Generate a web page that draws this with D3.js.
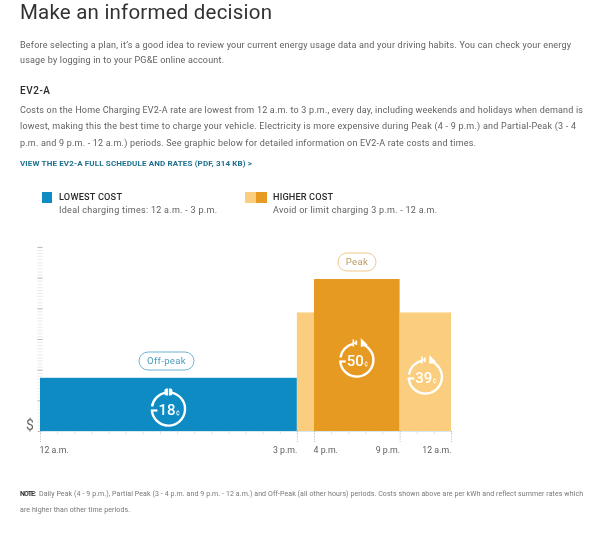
<!DOCTYPE html>
<html><head><meta charset="utf-8">
<script src="https://cdn.jsdelivr.net/npm/d3@7"></script>
<style>html,body{margin:0;padding:0;background:#fff}svg{display:block}text{font-family:Roboto,sans-serif}</style>
</head><body><div id="c"></div>
<script>
// Data
const periodStarts = [0, 15, 16, 21];
const periodEnds = [15, 16, 21, 24];
const periodNames = ["Off-peak", "Partial-peak", "Peak", "Partial-peak"];
const barCents = [17.5, 39, 50, 39];
const centLabels = ["18", null, "50", "39"];
const tickHours = [0, 15, 16, 21, 24];
const tickLabels = ["12 a.m.", "3 p.m.", "4 p.m.", "9 p.m.", "12 a.m."];
const titleText = "Make an informed decision";
const introLines = ["Before selecting a plan, it\u2019s a good idea to review your current energy usage data and your driving habits. You can check your energy","usage by logging in to your PG&E online account."];
const rateHeading = "EV2-A";
const rateLines = ["Costs on the Home Charging EV2-A rate are lowest from 12 a.m. to 3 p.m., every day, including weekends and holidays when demand is","lowest, making this the best time to charge your vehicle. Electricity is more expensive during Peak (4 - 9 p.m.) and Partial-Peak (3 - 4","p.m. and 9 p.m. - 12 a.m.) periods. See graphic below for detailed information on EV2-A rate costs and times."];
const linkText = "VIEW THE EV2-A FULL SCHEDULE AND RATES (PDF, 314 KB) >";
const legendTitles = ["LOWEST COST", "HIGHER COST"];
const legendNotes = ["Ideal charging times: 12 a.m. - 3 p.m.", "Avoid or limit charging 3 p.m. - 12 a.m."];
const noteBold = "NOTE:";
const noteLines = ["Daily Peak (4 - 9 p.m.), Partial Peak (3 - 4 p.m. and 9 p.m. - 12 a.m.) and Off-Peak (all other hours) periods. Costs shown above are per kWh and reflect summer rates which","are higher than other time periods."];

const W = 602, H = 533;
const BLUE = "#0a8bc2", DARK = "#e69a20", LIGHT = "#fbcd7e";
const colors = [BLUE, LIGHT, DARK, LIGHT];

const svg = d3.select("#c").append("svg").attr("width", W).attr("height", H).attr("viewBox", [0,0,W,H]);
const defs = svg.append("defs");
defs.append("filter").attr("id","soft").attr("x","-5%").attr("y","-5%").attr("width","110%").attr("height","110%")
  .append("feGaussianBlur").attr("stdDeviation",0.4);
const root = svg.append("g").attr("filter","url(#soft)");

function txt(t, x, y, size, color, width, weight){
  const el = root.append("text").attr("x",x).attr("y",y).attr("font-size",size).attr("fill",color)
    .attr("font-weight",weight||400).text(t);
  if(width) el.attr("textLength",width).attr("lengthAdjust","spacing");
  return el;
}

// Page text
txt(titleText,20,18.5,20.5,"#333",252,400);
txt(introLines[0],20,47.5,9,"#5f5f5f",551);
txt(introLines[1],20,63,9,"#5f5f5f",204);
txt(rateHeading,20,94,10,"#2b2b2b",30,500);
txt(rateLines[0],20,113,9,"#5f5f5f",563);
txt(rateLines[1],20,129,9,"#5f5f5f",556);
txt(rateLines[2],20,146,9,"#5f5f5f",456);
txt(linkText,20,166,8,"#1d6f8f",232,700);

// Legend
root.append("rect").attr("x",42).attr("y",192).attr("width",10).attr("height",11).attr("fill",BLUE);
root.append("rect").attr("x",245).attr("y",192).attr("width",11).attr("height",11).attr("fill",LIGHT);
root.append("rect").attr("x",256).attr("y",192).attr("width",11).attr("height",11).attr("fill",DARK);
txt(legendTitles[0],59,200,9.2,"#2b2b2b",63,500);
txt(legendTitles[1],273,200,9.2,"#2b2b2b",60,500);
txt(legendNotes[0],59,213,9,"#5f5f5f",158);
txt(legendNotes[1],273,213,9,"#5f5f5f",164);

// Scales
const x = d3.scaleLinear().domain([0,24]).range([40,451]);
const y = d3.scaleLinear().domain([0,50]).range([431,279]);
const yAxisScale = d3.scaleLinear().domain([0,60]).range([431,247]);

// Y axis: ruler, light minor ticks and darker major ticks
const yMinor = root.append("g").attr("transform",`translate(${x(0)+2.5},0)`)
  .call(d3.axisLeft(yAxisScale).tickValues(d3.range(0,60.01,1)).tickSize(5).tickFormat(""));
yMinor.select(".domain").remove();
yMinor.selectAll(".tick line").attr("stroke","#e4e4e4").attr("stroke-width",0.8);
const yMajor = root.append("g").attr("transform",`translate(${x(0)+2.5},0)`)
  .call(d3.axisLeft(yAxisScale).tickValues(d3.range(0,60.01,10)).tickSize(5).tickFormat(""));
yMajor.select(".domain").remove();
yMajor.selectAll(".tick line").attr("stroke","#bdbdbd").attr("stroke-width",1);
txt("$",26,429.5,14,"#666",null,400);

// X axis: hourly ticks + dotted labelled drops
const xHours = root.append("g").attr("transform","translate(0,431)")
  .call(d3.axisBottom(x).tickValues(d3.range(0,25)).tickSize(3).tickFormat(""));
xHours.select(".domain").attr("stroke","#cfe3ec").attr("stroke-width",0.8);
xHours.selectAll(".tick line").attr("stroke","#d5d5d5").attr("stroke-width",0.7);
const xMain = root.append("g").attr("transform","translate(0,431)")
  .call(d3.axisBottom(x).tickValues(tickHours).tickSize(12).tickPadding(3).tickFormat((d,i)=>tickLabels[i]));
xMain.select(".domain").remove();
xMain.selectAll(".tick line").attr("stroke","#bbb").attr("stroke-dasharray","1 1.5");
xMain.selectAll("text").attr("font-size",8.8).attr("fill","#5f5f5f").attr("font-family","Roboto,sans-serif").attr("dy","0.75em");
xMain.selectAll(".tick").filter(d=>d===0).select("text").attr("text-anchor","start").attr("dx",-1);
xMain.selectAll(".tick").filter(d=>d===24).select("text").attr("text-anchor","end");
xMain.selectAll(".tick").filter(d=>d===15).select("text").attr("text-anchor","end");
xMain.selectAll(".tick").filter(d=>d===16).select("text").attr("text-anchor","start").attr("dx",-1);
xMain.selectAll(".tick").filter(d=>d===21).select("text").attr("text-anchor","end");

// Bars
root.append("g").selectAll("rect").data(barCents).join("rect")
  .attr("x",(d,i)=>x(periodStarts[i])).attr("width",(d,i)=>x(periodEnds[i])-x(periodStarts[i]))
  .attr("y",d=>y(d)).attr("height",d=>y(0)-y(d)).attr("fill",(d,i)=>colors[i]);

// Cost badges
function ring(g, a0, a1){
  g.append("path").attr("d",d3.arc().innerRadius(15.4).outerRadius(17.8).startAngle(a0).endAngle(a1)()).attr("fill","#fff");
}
function badge(cx, cy, label, closed){
  const g = root.append("g").attr("transform",`translate(${cx},${cy})`);
  ring(g, closed?0.16:0.3, 2*Math.PI-1.62);
  ring(g, -1.42, closed?-0.16:-0.24);
  g.append("path").attr("d","M-17.5,1.5H-11").attr("stroke","#fff").attr("stroke-width",2.2);
  if(closed){
    g.append("rect").attr("x",-4).attr("y",-20.5).attr("width",8).attr("height",7).attr("rx",2).attr("fill","#fff");
    g.append("path").attr("d","M0,-21V-13").attr("stroke",BLUE).attr("stroke-width",0.9);
  } else {
    g.append("path").attr("d","M-3.5,-20.5V-13.5 M-3,-17H0 M-0.5,-19.5V-15").attr("stroke","#fff").attr("stroke-width",1.7).attr("fill","none");
    g.append("path").attr("d","M4,-22L4,-13L11,-15Z").attr("fill","#fff");
  }
  g.append("text").attr("x",-10).attr("y",6).attr("font-size",15).attr("fill","#fff").attr("font-weight",500).text(label);
  g.append("text").attr("x",7.5).attr("y",5.5).attr("font-size",7).attr("fill","#fff").attr("font-weight",500).text("\u00a2");
}
const badgeY = [409, null, 360, 377];
centLabels.forEach((c,i)=>{ if(!c) return;
  const mid = (x(periodStarts[i])+x(periodEnds[i]))/2;
  badge(mid, badgeY[i], c, i===0);
});

// Pills
function pill(cx, cy, w, label, stroke, fill){
  root.append("rect").attr("x",cx-w/2).attr("y",cy-9).attr("width",w).attr("height",18).attr("rx",9)
    .attr("fill","#fff").attr("stroke",stroke).attr("stroke-width",1);
  root.append("text").attr("x",cx).attr("y",cy+3.3).attr("text-anchor","middle").attr("font-size",9.6).attr("letter-spacing",0.3).attr("fill",fill).text(label);
}
pill(166.5,361,55,periodNames[0],"#6db3d2","#4a9cc0");
pill(357,262,38,periodNames[2],"#ecc98a","#b99a63");

// Note
txt(noteBold,20,496,7,"#333",16,700);
txt(noteLines[0],39,496,7,"#777",544);
txt(noteLines[1],20,512,7,"#777",110);
</script></body></html>
